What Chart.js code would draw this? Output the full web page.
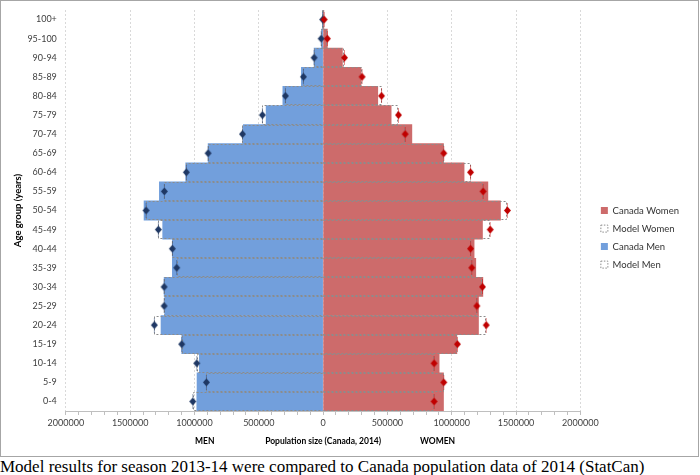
<!DOCTYPE html>
<html>
<head>
<meta charset="utf-8">
<script src="https://cdn.jsdelivr.net/npm/chart.js@4/dist/chart.umd.min.js"></script>
<style>
  body { margin: 0; background: #fff; }
  #frame { position: absolute; left: 0; top: 0; width: 697px; height: 455px; border: 1px solid #a6a6a6; }
  #caption { position: absolute; left: 0; top: 457px; font-family: "Liberation Serif", serif; font-size: 17px; color: #000; white-space: nowrap; }
</style>
</head>
<body>
<div id="frame"><canvas id="pyramid" width="697" height="455"></canvas></div>
<div id="caption">Model results for season 2013-14 were compared to Canada population data of 2014 (StatCan)</div>
<script>
// age groups from youngest (bottom) to oldest (top)
const ageGroups = ['0-4', '5-9', '10-14', '15-19', '20-24', '25-29', '30-34', '35-39', '40-44', '45-49',
  '50-54', '55-59', '60-64', '65-69', '70-74', '75-79', '80-84', '85-89', '90-94', '95-100', '100+'];

const canadaMen = [982000, 980000, 962000, 1099000, 1260000, 1232000, 1236000, 1172000, 1172000, 1247000,
  1392000, 1273000, 1068000, 894000, 620000, 443000, 313000, 169000, 70000, 12000, 1500];
const modelMen = [1013000, 907000, 982000, 1099000, 1312000, 1236000, 1236000, 1138000, 1172000, 1281000,
  1376000, 1234000, 1063000, 894000, 627000, 472000, 293000, 153000, 70000, 15000, 3000];
const canadaWomen = [936000, 936000, 902000, 1040000, 1208000, 1208000, 1242000, 1187000, 1174000, 1239000,
  1379000, 1281000, 1096000, 936000, 690000, 529000, 425000, 295000, 150000, 33000, 6000];
const modelWomen = [863000, 938000, 863000, 1044000, 1268000, 1195000, 1239000, 1156000, 1146000, 1299000,
  1433000, 1244000, 1146000, 938000, 638000, 586000, 454000, 303000, 166000, 33000, 8000];

const xTicks = { min: -2000000, max: 2000000, step: 100000, labelStep: 500000 };

const FONT = 'Lato';
const TEXT = '#404040';
const DOTS = '#8c8c8c';

// men are drawn to the left
const left = arr => arr.map(v => -v);

// diamond with a small vertical error whisker
function makeMarker(color, whisker) {
  const c = document.createElement('canvas');
  c.width = 9;
  c.height = 15;
  const g = c.getContext('2d');
  g.strokeStyle = whisker;
  g.lineWidth = 1;
  g.beginPath();
  g.moveTo(4.5, 0);
  g.lineTo(4.5, 15);
  g.stroke();
  g.fillStyle = color;
  g.beginPath();
  g.moveTo(4.5, 3.5);
  g.lineTo(8, 7.5);
  g.lineTo(4.5, 11.5);
  g.lineTo(1, 7.5);
  g.closePath();
  g.fill();
  return c;
}

// bars can't be dashed in Chart.js, so stroke the model bar outlines here
const modelOutline = {
  id: 'modelOutline',
  afterDatasetDraw(chart, args) {
    const ds = chart.data.datasets[args.index];
    if (!ds.dotted) return;
    const ctx = chart.ctx;
    ctx.save();
    ctx.strokeStyle = DOTS;
    ctx.lineWidth = 1;
    ctx.setLineDash([2, 2]);
    args.meta.data.forEach(bar => {
      const p = bar.getProps(['x', 'y', 'base', 'height'], true);
      const top = Math.round(p.y - p.height / 2) + 0.5;
      const bottom = Math.round(p.y + p.height / 2) - 0.5;
      const end = Math.round(p.x) + (p.x < p.base ? 0.5 : -0.5);
      ctx.beginPath();
      ctx.moveTo(p.base, top);
      ctx.lineTo(end, top);
      ctx.lineTo(end, bottom);
      ctx.lineTo(p.base, bottom);
      ctx.stroke();
    });
    ctx.restore();
  }
};

// MEN / WOMEN labels next to the x axis title
const sideLabels = {
  id: 'sideLabels',
  afterDraw(chart) {
    const x = chart.scales.x;
    const ctx = chart.ctx;
    ctx.save();
    ctx.font = 'bold 8.5px ' + FONT;
    ctx.fillStyle = '#000';
    ctx.textAlign = 'center';
    ctx.textBaseline = 'middle';
    const y = x.bottom - 7;
    ctx.fillText('MEN', x.getPixelForValue(-920000), y);
    ctx.fillText('WOMEN', x.getPixelForValue(890000), y);
    ctx.restore();
  }
};

new Chart(document.getElementById('pyramid'), {
  type: 'bar',
  data: {
    labels: ageGroups,
    datasets: [
      { label: 'Canada Women', data: canadaWomen, backgroundColor: '#cd6b6b', borderWidth: 0, order: 2 },
      { label: 'Model Women', data: modelWomen, backgroundColor: 'rgba(0,0,0,0)', borderWidth: 0, dotted: true, order: 1 },
      { label: 'Canada Men', data: left(canadaMen), backgroundColor: '#729fdc', borderWidth: 0, order: 2 },
      { label: 'Model Men', data: left(modelMen), backgroundColor: 'rgba(0,0,0,0)', borderWidth: 0, dotted: true, order: 1 },
      {
        type: 'line', label: 'women points', data: modelWomen, indexAxis: 'y', showLine: false,
        pointStyle: makeMarker('#c00000', 'rgba(192,0,0,0.45)'), pointRadius: 4, order: 0
      },
      {
        type: 'line', label: 'men points', data: left(modelMen), indexAxis: 'y', showLine: false,
        pointStyle: makeMarker('#1f3864', 'rgba(31,56,100,0.45)'), pointRadius: 4, order: 0
      }
    ]
  },
  options: {
    indexAxis: 'y',
    responsive: false,
    animation: false,
    grouped: false,
    categoryPercentage: 1,
    barPercentage: 1,
    layout: { padding: { top: 9, left: 7, right: 9, bottom: 8 } },
    plugins: {
      tooltip: { enabled: false },
      legend: {
        position: 'right',
        title: { display: true, text: ' ', padding: { top: 16, bottom: 0 }, font: { size: 1 } },
        labels: {
          font: { family: FONT, size: 9.5 },
          color: '#333',
          boxWidth: 7,
          boxHeight: 7,
          padding: 8.5,
          generateLabels: chart => Chart.defaults.plugins.legend.labels.generateLabels(chart).map(item => {
            if (chart.data.datasets[item.datasetIndex].dotted) {
              item.lineWidth = 1;
              item.strokeStyle = DOTS;
              item.lineDash = [1.5, 1.5];
            }
            return item;
          }),
          filter: item => item.datasetIndex < 4,
          sort: (a, b) => a.datasetIndex - b.datasetIndex
        }
      }
    },
    scales: {
      x: {
        type: 'linear',
        min: xTicks.min,
        max: xTicks.max,
        ticks: {
          stepSize: xTicks.step,
          autoSkip: false,
          maxRotation: 0,
          padding: 3,
          font: { family: FONT, size: 9 },
          color: TEXT,
          callback: v => (v % xTicks.labelStep === 0 ? String(Math.abs(v)) : '')
        },
        grid: {
          color: ctx => (ctx.tick && ctx.tick.value % xTicks.labelStep === 0 ? '#d9d9d9' : 'rgba(0,0,0,0)'),
          tickColor: '#bfbfbf',
          tickLength: 4
        },
        border: { color: '#bfbfbf', dash: [2, 2] },
        title: {
          display: true,
          text: 'Population size (Canada, 2014)',
          font: { family: FONT, size: 8.5, weight: 'bold' },
          color: '#000',
          padding: { top: 4, bottom: 2 }
        }
      },
      y: {
        type: 'category',
        reverse: true,
        offset: true,
        grid: { display: false, drawTicks: false },
        border: { display: false },
        ticks: { font: { family: FONT, size: 9 }, color: TEXT, padding: 9 },
        title: {
          display: true,
          text: 'Age group (years)',
          font: { family: FONT, size: 9.5, weight: 'bold' },
          color: '#000',
          padding: { top: 4, bottom: -5 }
        },
        // labels sit in the middle of their rows, no extra room needed above/below
        afterFit: scale => { scale.paddingTop = 0; scale.paddingBottom = 0; }
      },
      // empty spacer between the plot and the legend
      gap: {
        type: 'category',
        position: 'right',
        display: true,
        grid: { display: false, drawTicks: false },
        border: { display: false },
        ticks: { display: false },
        afterFit: scale => { scale.width = 12; scale.paddingTop = 0; scale.paddingBottom = 0; }
      }
    }
  },
  plugins: [modelOutline, sideLabels]
});
</script>
</body>
</html>
